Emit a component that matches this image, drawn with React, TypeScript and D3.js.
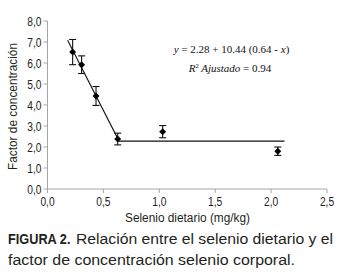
import React from "react";
import * as d3 from "d3";

const selenio = [0.225, 0.305, 0.434, 0.628, 1.03, 2.06];
const factor = [6.52, 5.92, 4.43, 2.38, 2.73, 1.8];
const errores = [0.6, 0.42, 0.45, 0.28, 0.29, 0.2];
const xTicks = [0, 0.5, 1.0, 1.5, 2.0, 2.5];
const yTicks = [0, 1, 2, 3, 4, 5, 6, 7, 8];
const ajusteX = [0.18, 0.64, 2.12];
const intercepto = 2.28;
const pendiente = 10.44;
const quiebre = 0.64;

const W = 340;
const H = 275;
const SANS = "'Liberation Sans', Arial, sans-serif";
const SERIF = "'Liberation Serif', 'Times New Roman', serif";
const NARROW = 0.82;
const INK = "#231f20";

function NText({
  x,
  y,
  anchor = "start",
  size,
  children,
  dy,
}: {
  x: number;
  y: number;
  anchor?: string;
  size: number;
  children: React.ReactNode;
  dy?: string;
}) {
  return (
    <text
      transform={`translate(${x},${y}) scale(${NARROW},1)`}
      textAnchor={anchor}
      fontFamily={SANS}
      fontSize={size}
      dy={dy}
      fill={INK}
    >
      {children}
    </text>
  );
}

function FitText({
  x,
  y,
  len,
  size,
  weight,
  rotate = 0,
  children,
}: {
  x: number;
  y: number;
  len: number;
  size: number;
  weight?: string;
  rotate?: number;
  children: React.ReactNode;
}) {
  return (
    <text
      transform={`translate(${x},${y}) rotate(${rotate})`}
      textLength={len}
      lengthAdjust="spacingAndGlyphs"
      fontFamily={SANS}
      fontSize={size}
      fontWeight={weight}
      fill={INK}
    >
      {children}
    </text>
  );
}

export default function App() {
  const x = d3.scaleLinear().domain([0, 2.5]).range([47.5, 327]);
  const y = d3.scaleLinear().domain([0, 8]).range([189, 21]);
  const fmt = (v: number) => v.toFixed(1).replace(".", ",");
  const modelo = (v: number) => (v < quiebre ? intercepto + pendiente * (quiebre - v) : intercepto);
  const line = d3
    .line<number>()
    .x((d) => x(d))
    .y((d) => y(modelo(d)));
  const diamond = d3.symbol().type(d3.symbolSquare).size(24)();
  const axisColor = "#a6a6a6";

  return (
    <svg
      width={W}
      height={H}
      style={{ position: "absolute", left: 0, top: 0, background: "#fff" }}
    >
      {/* axes */}
      <line x1={x(0)} x2={x(2.5)} y1={y(0)} y2={y(0)} stroke={axisColor} strokeWidth={1} />
      <line x1={x(0)} x2={x(0)} y1={y(0) + 4} y2={y(8)} stroke={axisColor} strokeWidth={1} />
      {yTicks.map((t) => (
        <g key={"y" + t}>
          <line x1={x(0) - 4} x2={x(0)} y1={y(t)} y2={y(t)} stroke={axisColor} />
          <NText x={x(0) - 6} y={y(t)} dy="0.36em" anchor="end" size={12.5}>
            {fmt(t)}
          </NText>
        </g>
      ))}
      {xTicks.map((t) => (
        <g key={"x" + t}>
          <line x1={x(t)} x2={x(t)} y1={y(0)} y2={y(0) + 4} stroke={axisColor} />
          <NText x={x(t)} y={y(0) + 17} anchor="middle" size={12.5}>
            {fmt(t)}
          </NText>
        </g>
      ))}
      <FitText x={17} y={170} len={127} size={12.5} rotate={-90}>
        Factor de concentración
      </FitText>
      <FitText x={125} y={221.5} len={125} size={12.5}>
        Selenio dietario (mg/kg)
      </FitText>

      {/* fit line */}
      <path d={line(ajusteX) || ""} fill="none" stroke="#111" strokeWidth={1.1} />

      {/* error bars + points */}
      {selenio.map((s, i) => {
        const cx = x(s);
        const top = y(factor[i] + errores[i]);
        const bot = y(factor[i] - errores[i]);
        return (
          <g key={"p" + i} stroke="#111" strokeWidth={1.1}>
            <line x1={cx} x2={cx} y1={top} y2={bot} />
            <line x1={cx - 3.5} x2={cx + 3.5} y1={top} y2={top} />
            <line x1={cx - 3.5} x2={cx + 3.5} y1={bot} y2={bot} />
            <path
              d={diamond || ""}
              transform={`translate(${cx},${y(factor[i])}) rotate(45)`}
              fill="#000"
              stroke="none"
            />
          </g>
        );
      })}

      {/* equation */}
      <text x={231.5} y={53} textAnchor="middle" fontFamily={SERIF} fontSize={11} fill="#111">
        <tspan fontStyle="italic">y</tspan> = 2.28 + 10.44 (0.64 - <tspan fontStyle="italic">x</tspan>)
      </text>
      <text x={230} y={72} textAnchor="middle" fontFamily={SERIF} fontSize={11} fill="#111">
        <tspan fontStyle="italic">R</tspan>
        <tspan fontSize={6.5} dy={-4}>2</tspan>
        <tspan dy={4} fontStyle="italic"> Ajustado</tspan> = 0.94
      </text>

      {/* caption */}
      <FitText x={8} y={244} len={62.5} size={14} weight="bold">
        FIGURA 2.
      </FitText>
      <FitText x={76} y={244} len={257} size={15.5}>
        Relación entre el selenio dietario y el
      </FitText>
      <FitText x={8} y={264.5} len={287} size={15.5}>
        factor de concentración selenio corporal.
      </FitText>
    </svg>
  );
}
